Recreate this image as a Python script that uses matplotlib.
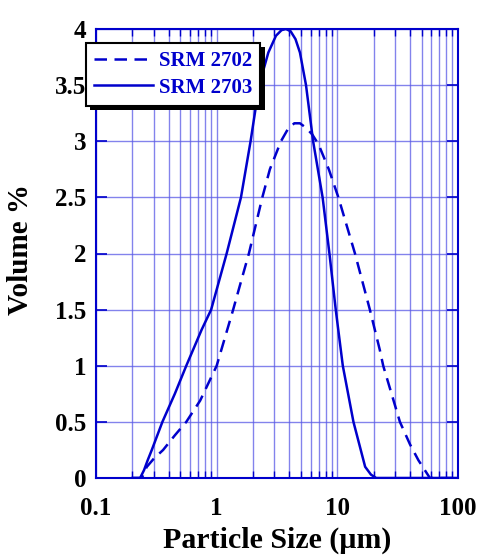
import numpy as np
import matplotlib
matplotlib.use('Agg')
import matplotlib.pyplot as plt
import matplotlib.patheffects as pe
from matplotlib.ticker import LogLocator, FixedLocator, FuncFormatter

plt.rcParams['font.family'] = ['Liberation Serif', 'DejaVu Serif']
plt.rcParams['font.weight'] = 'bold'

# SRM 2703 (solid) - size in um, volume %
size_2703 = [0.2, 0.232, 0.25, 0.268, 0.29, 0.355, 0.45, 0.56, 0.75, 0.90,
             1.21, 1.59, 1.91, 2.25, 2.68, 3.1, 3.45, 3.75, 4.1, 4.5, 4.9,
             5.5, 6.3, 7.55, 8.6, 9.7, 11.1, 13.6, 17.0, 19.0, 21.0, 100.0]
vol_2703 = [0.0, 0.0, 0.07, 0.158, 0.25, 0.5, 0.75, 1.0, 1.32, 1.5,
            2.0, 2.5, 3.0, 3.5, 3.79, 3.94, 3.99, 4.0, 3.98, 3.91, 3.79,
            3.5, 3.0, 2.5, 2.0, 1.5, 1.0, 0.5, 0.1, 0.03, 0.0, 0.0]

# SRM 2702 (dashed)
size_2702 = [0.2, 0.24, 0.263, 0.3, 0.36, 0.45, 0.56, 0.73, 1.0, 1.37,
             1.61, 1.85, 2.39, 2.76, 3.41, 3.9, 4.4, 4.9, 5.5, 6.2, 7.0,
             8.5, 10.2, 14.0, 18.6, 22.5, 24.0, 33.0, 40.0, 47.0, 58.5, 100.0]
vol_2702 = [0.0, 0.0, 0.098, 0.17, 0.25, 0.38, 0.5, 0.69, 1.0, 1.5,
            1.77, 2.0, 2.5, 2.75, 3.0, 3.11, 3.16, 3.16, 3.12, 3.06, 2.97,
            2.75, 2.5, 2.0, 1.5, 1.14, 1.0, 0.5, 0.3, 0.158, 0.0, 0.0]

y_ticks = [0, 0.5, 1, 1.5, 2, 2.5, 3, 3.5, 4]

BLUE = '#0000cc'
GRID = '#5a5ae6'

fig = plt.figure(figsize=(4.81, 5.56), dpi=100)
ax = fig.add_axes([96 / 481, 78 / 556, 362 / 481, 449 / 556])

ax.plot(size_2702, vol_2702, color=BLUE, lw=1.8, dashes=(5, 3), label='SRM 2702')
ax.plot(size_2703, vol_2703, color=BLUE, lw=1.8, label='SRM 2703')

ax.set_xscale('log')
ax.set_xlim(0.1, 100)
ax.set_ylim(0, 4)
ax.xaxis.set_major_locator(LogLocator(base=10, numticks=10))
ax.xaxis.set_minor_locator(LogLocator(base=10, subs=np.arange(2, 10), numticks=10))
ax.xaxis.set_major_formatter(FuncFormatter(lambda v, p: f'{v:g}'))
ax.yaxis.set_major_locator(FixedLocator(y_ticks))
ax.yaxis.set_major_formatter(FuncFormatter(lambda v, p: f'{v:g}'))

ax.grid(True, which='both', color=GRID, lw=1.0, alpha=0.75)
for s in ax.spines.values():
    s.set_color(BLUE)
    s.set_linewidth(1.5)

ax.tick_params(axis='both', which='both', direction='in', color=BLUE,
               top=True, right=True, labelsize=18)
ax.tick_params(axis='x', which='major', length=0, pad=14)
ax.tick_params(axis='x', which='minor', length=5, width=1)
ax.tick_params(axis='y', which='major', length=8, width=1.2, pad=7)

ax.set_xlabel('Particle Size (µm)', fontsize=21.5, fontweight='bold')
ax.set_ylabel('Volume %', fontsize=21, fontweight='bold')
ax.xaxis.set_label_coords(0.5, -0.108)
ax.yaxis.set_label_coords(-0.17, 0.51)

leg = ax.legend(loc='upper left', bbox_to_anchor=(-0.028, 0.969),
                borderaxespad=0, fancybox=False, framealpha=1,
                edgecolor='black', handlelength=2.8, handletextpad=0.3,
                borderpad=0.4, labelspacing=0.3,
                prop={'size': 15, 'weight': 'bold'})
leg.get_frame().set_linewidth(1.5)
leg.get_frame().set_path_effects([
    pe.SimplePatchShadow(offset=(3, -3), shadow_rgbFace='black', alpha=1),
    pe.Normal()])
for t in leg.get_texts():
    t.set_color(BLUE)

fig.savefig('out.png', dpi=100)
